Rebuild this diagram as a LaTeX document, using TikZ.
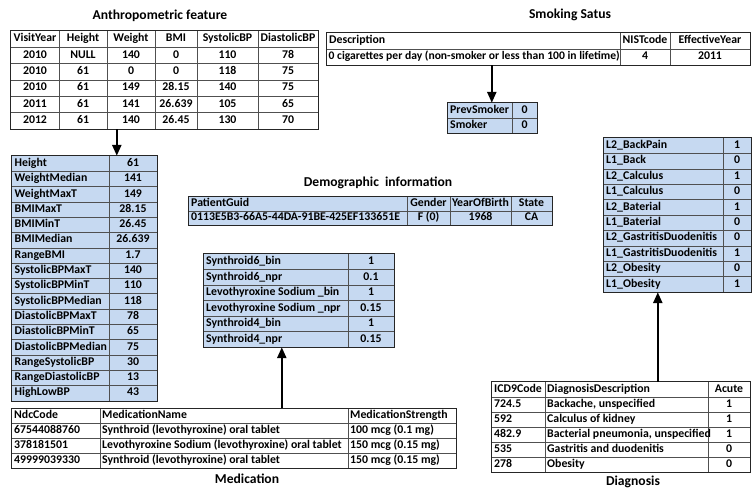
\documentclass[tikz,border=0pt]{standalone}
\usepackage{fontspec}
\setmainfont{Carlito}
\usetikzlibrary{fit,arrows.meta}
\definecolor{cellblue}{HTML}{C6D9F1}
\definecolor{gridc}{HTML}{505050}
\tikzset{
  every node/.style={font=\bfseries\fontsize{11.8}{13}\selectfont, inner sep=0pt, text height=8pt, text depth=2.5pt},
  lt/.style={anchor=west},
  ct/.style={anchor=center},
  ttl/.style={font=\bfseries\fontsize{13.6}{15}\selectfont, text height=9.5pt, text depth=3pt},
  innerline/.style={draw=gridc, line width=0.5pt},
  outerline/.style={draw=black!85, line width=1pt},
  arr/.style={line width=2.4pt, -{Triangle[width=9pt,length=11pt]}},
  frame/.style={inner sep=0pt, draw=none, text height=0pt, text depth=0pt}
}
% name, x0, y0, x1, y1, fill
\newcommand\mktab[6]{%
  \path[fill=#6] (#2,#3) rectangle (#4,#5);
  \node[frame, fit={(#2,#3) (#4,#5)}] (#1) {};
}
\begin{document}
\begin{tikzpicture}[x=1pt,y=-1pt]
\fill[white] (0,0) rectangle (752,490);
\useasboundingbox (0,0) rectangle (752,490);

% ---------- Anthropometric feature ----------
\node[ttl] (t-anthro) at (160,16) {Anthropometric feature};
\mktab{anthro}{11}{31}{318}{129}{white}
\foreach \x in {59,107,155,197,258} \draw[innerline] (\x,31) -- (\x,129);
\foreach \i in {1,...,5} \draw[innerline] (11,{31+16.333*\i}) -- (318,{31+16.333*\i});
\draw[outerline] (anthro.north west) rectangle (anthro.south east);
\foreach \a/\b/\c/\d/\e/\f [count=\i] in {
  VisitYear/Height/Weight/BMI/SystolicBP/DiastolicBP,
  2010/NULL/140/0/110/78,
  2010/61/0/0/118/75,
  2010/61/149/28.15/140/75,
  2011/61/141/26.639/105/65,
  2012/61/140/26.45/130/70}{
  \node[ct] (an-\i-1) at (35,{31+16.333*(\i-0.5)}) {\a};
  \node[ct] (an-\i-2) at (83,{31+16.333*(\i-0.5)}) {\b};
  \node[ct] (an-\i-3) at (131,{31+16.333*(\i-0.5)}) {\c};
  \node[ct] (an-\i-4) at (176,{31+16.333*(\i-0.5)}) {\d};
  \node[ct] (an-\i-5) at (227.5,{31+16.333*(\i-0.5)}) {\e};
  \node[ct] (an-\i-6) at (288,{31+16.333*(\i-0.5)}) {\f};
}

% ---------- Anthropometric derived ----------
\mktab{stats}{12}{156}{157}{400.8}{cellblue}
\draw[innerline] (109,156) -- (109,400.8);
\foreach \i in {1,...,15} \draw[innerline] (12,{156+15.3*\i}) -- (157,{156+15.3*\i});
\draw[outerline] (stats.north west) rectangle (stats.south east);
\foreach \t/\v [count=\i] in {Height/61, WeightMedian/141, WeightMaxT/149,
  BMIMaxT/28.15, BMIMinT/26.45, BMIMedian/26.639, RangeBMI/1.7,
  SystolicBPMaxT/140, SystolicBPMinT/110, SystolicBPMedian/118,
  DiastolicBPMaxT/78, DiastolicBPMinT/65, DiastolicBPMedian/75,
  RangeSystolicBP/30, RangeDiastolicBP/13, HighLowBP/43}{
  \node[lt] (st-\i-1) at (14.5,{156+15.3*(\i-0.5)}) {\t};
  \node[ct] (st-\i-2) at (133,{156+15.3*(\i-0.5)}) {\v};
}

% ---------- Smoking status ----------
\node[ttl] (t-smoke) at (570,15) {Smoking Satus};
\mktab{smoke}{327}{33}{750}{65}{white}
\foreach \x in {620,670} \draw[innerline] (\x,33) -- (\x,65);
\draw[innerline] (327,49) -- (750,49);
\draw[outerline] (smoke.north west) rectangle (smoke.south east);
\node[lt] (sm-1-1) at (329,41) {Description};
\node[ct] (sm-1-2) at (645,41) {NISTcode};
\node[ct] (sm-1-3) at (710,41) {EffectiveYear};
\node[lt, font=\bfseries\fontsize{11.6}{13}\selectfont] (sm-2-1) at (328.5,57) {0 cigarettes per day (non-smoker or less than 100 in lifetime)};
\node[ct] (sm-2-2) at (645,57) {4};
\node[ct] (sm-2-3) at (710,57) {2011};

\mktab{prev}{448}{103}{537}{133}{cellblue}
\draw[innerline] (512,103) -- (512,133);
\draw[innerline] (448,118) -- (537,118);
\draw[outerline] (prev.north west) rectangle (prev.south east);
\node[lt] (pv-1-1) at (450,110.5) {PrevSmoker};
\node[ct] (pv-1-2) at (524.5,110.5) {0};
\node[lt] (pv-2-1) at (450,125.5) {Smoker};
\node[ct] (pv-2-2) at (524.5,125.5) {0};

% ---------- Demographic ----------
\node[ttl] (t-demo) at (378,183) {Demographic\ \ information};
\mktab{demo}{189}{197}{552}{225}{cellblue}
\foreach \x in {407,450,511} \draw[innerline] (\x,197) -- (\x,225);
\draw[innerline] (189,211) -- (552,211);
\draw[outerline] (demo.north west) rectangle (demo.south east);
\node[lt] (de-1-1) at (191,204) {PatientGuid};
\node[ct] (de-1-2) at (428.5,204) {Gender};
\node[ct] (de-1-3) at (480.5,204) {YearOfBirth};
\node[ct] (de-1-4) at (531.5,204) {State};
\node[lt] (de-2-1) at (191,218) {0113E5B3-66A5-44DA-91BE-425EF133651E};
\node[ct] (de-2-2) at (428.5,218) {F (0)};
\node[ct] (de-2-3) at (480.5,218) {1968};
\node[ct] (de-2-4) at (531.5,218) {CA};

% ---------- Medication derived ----------
\mktab{synth}{204}{254}{394}{347}{cellblue}
\draw[innerline] (348,254) -- (348,347);
\foreach \i in {1,...,5} \draw[innerline] (204,{254+15.5*\i}) -- (394,{254+15.5*\i});
\draw[outerline] (synth.north west) rectangle (synth.south east);
\foreach \t/\v [count=\i] in {Synthroid6\_bin/1, Synthroid6\_npr/0.1,
  Levothyroxine Sodium \_bin/1, Levothyroxine Sodium \_npr/0.15,
  Synthroid4\_bin/1, Synthroid4\_npr/0.15}{
  \node[lt] (sy-\i-1) at (206,{254+15.5*(\i-0.5)}) {\t};
  \node[ct] (sy-\i-2) at (371,{254+15.5*(\i-0.5)}) {\v};
}

% ---------- Medication ----------
\mktab{med}{12}{408.5}{456}{468.5}{white}
\foreach \x in {100,348} \draw[innerline] (\x,408.5) -- (\x,468.5);
\foreach \i in {1,...,3} \draw[innerline] (12,{408.5+15*\i}) -- (456,{408.5+15*\i});
\draw[outerline] (med.north west) rectangle (med.south east);
\foreach \a/\b/\c [count=\i] in {
  NdcCode/MedicationName/MedicationStrength,
  67544088760/Synthroid (levothyroxine) oral tablet/100 mcg (0.1 mg),
  378181501/Levothyroxine Sodium (levothyroxine) oral tablet/150 mcg (0.15 mg),
  49999039330/Synthroid (levothyroxine) oral tablet/150 mcg (0.15 mg)}{
  \node[lt] (me-\i-1) at (14,{408.5+15*(\i-0.5)}) {\a};
  \node[lt] (me-\i-2) at (102,{408.5+15*(\i-0.5)}) {\b};
  \node[lt] (me-\i-3) at (350,{408.5+15*(\i-0.5)}) {\c};
}
\node[ttl] (t-med) at (247,480) {Medication};

% ---------- Diagnosis derived ----------
\mktab{dxf}{604}{138}{751}{292}{cellblue}
\draw[innerline] (723,138) -- (723,292);
\foreach \i in {1,...,9} \draw[innerline] (604,{138+15.4*\i}) -- (751,{138+15.4*\i});
\draw[outerline] (dxf.north west) rectangle (dxf.south east);
\foreach \t/\v [count=\i] in {L2\_BackPain/1, L1\_Back/0, L2\_Calculus/1,
  L1\_Calculus/0, L2\_Baterial/1, L1\_Baterial/0, L2\_GastritisDuodenitis/0,
  L1\_GastritisDuodenitis/1, L2\_Obesity/0, L1\_Obesity/1}{
  \node[lt] (dx-\i-1) at (606,{138+15.4*(\i-0.5)}) {\t};
  \node[ct] (dx-\i-2) at (737,{138+15.4*(\i-0.5)}) {\v};
}

% ---------- Diagnosis ----------
\mktab{diag}{492}{382}{750}{472}{white}
\foreach \x in {545,708} \draw[innerline] (\x,382) -- (\x,472);
\foreach \i in {1,...,5} \draw[innerline] (492,{382+15*\i}) -- (750,{382+15*\i});
\draw[outerline] (diag.north west) rectangle (diag.south east);
\foreach \a/\b/\c [count=\i] in {
  ICD9Code/DiagnosisDescription/Acute,
  724.5/{Backache, unspecified}/1,
  592/Calculus of kidney/1,
  482.9/{Bacterial pneumonia, unspecified}/1,
  535/Gastritis and duodenitis/0,
  278/Obesity/0}{
  \node[lt] (di-\i-1) at (494,{382+15*(\i-0.5)}) {\a};
  \node[lt] (di-\i-2) at (547,{382+15*(\i-0.5)}) {\b};
  \node[ct] (di-\i-3) at (729,{382+15*(\i-0.5)}) {\c};
}
\node[ttl] (t-diag) at (633,482) {Diagnosis};

% ---------- Arrows ----------
\path (anthro.south west) ++(106,0) coordinate (a1);
\draw[arr] (a1) -- (a1 |- stats.north);
\path (smoke.south west) ++(165,0) coordinate (a2);
\draw[arr] (a2) -- (a2 |- prev.north);
\path (med.north west) ++(270,0) coordinate (a3);
\draw[arr] (a3) -- (a3 |- synth.south);
\path (diag.north west) ++(166,0) coordinate (a4);
\draw[arr] (a4) -- (a4 |- dxf.south);
\end{tikzpicture}
\end{document}
